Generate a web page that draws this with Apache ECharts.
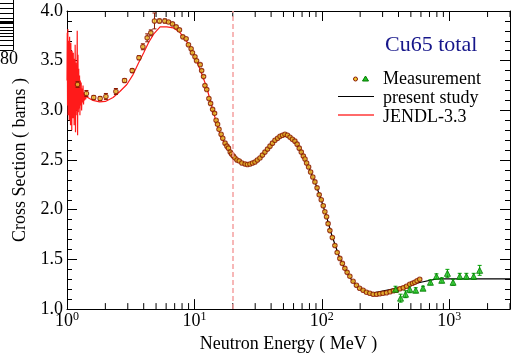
<!DOCTYPE html>
<html>
<head>
<meta charset="utf-8">
<script src="https://cdn.jsdelivr.net/npm/echarts@6/dist/echarts.min.js"></script>
<style>
html, body { margin: 0; padding: 0; background: #fff; }
#main { width: 516px; height: 358px; }
</style>
</head>
<body>
<div id="main"></div>
<script>
// measurement, circles: [MeV, barns, error]
var measCircles = [
    [1.21, 3.26, 0.03], [1.42, 3.17, 0.03], [1.62, 3.13, 0.02], [1.82, 3.12, 0.02],
    [2.02, 3.14, 0.03], [2.42, 3.19, 0.03], [2.83, 3.30, 0.02], [3.25, 3.40, 0.02],
    [3.67, 3.53, 0.02], [3.94, 3.64, 0.03], [4.26, 3.73, 0.04], [4.55, 3.78, 0.03],
    [4.86, 3.90, 0.08], [5.32, 3.90, 0.02], [5.86, 3.90, 0.02], [6.26, 3.89, 0.01],
    [6.73, 3.87, 0.01], [7.19, 3.84, 0.01], [7.63, 3.81, 0.01], [8.11, 3.74, 0.01],
    [8.61, 3.72, 0.01], [8.98, 3.66, 0.01], [9.42, 3.62, 0.01], [9.65, 3.58, 0.01],
    [10.1, 3.54, 0.01], [10.4, 3.50, 0.01], [11.1, 3.46, 0.01], [11.4, 3.40, 0.01],
    [11.8, 3.34, 0.01], [12.1, 3.25, 0.01], [12.5, 3.21, 0.01], [13.0, 3.12, 0.01],
    [13.4, 3.07, 0.01], [13.9, 3.01, 0.01], [14.4, 2.97, 0.01], [14.8, 2.90, 0.01],
    [15.2, 2.86, 0.01], [15.6, 2.81, 0.01], [16.2, 2.76, 0.01], [16.7, 2.72, 0.01],
    [17.4, 2.67, 0.01], [18.0, 2.64, 0.01], [18.5, 2.62, 0.01], [19.1, 2.58, 0.01],
    [19.6, 2.56, 0.01], [20.2, 2.54, 0.01], [20.8, 2.52, 0.01], [21.6, 2.50, 0.01],
    [22.5, 2.49, 0.01], [23.6, 2.47, 0.01], [25.0, 2.46, 0.01], [26.1, 2.455, 0.01],
    [27.3, 2.46, 0.01], [28.6, 2.47, 0.01], [29.9, 2.48, 0.01], [31.2, 2.50, 0.01],
    [32.7, 2.52, 0.01], [34.2, 2.55, 0.01], [35.8, 2.58, 0.01], [37.5, 2.61, 0.01],
    [39.2, 2.64, 0.01], [41.0, 2.67, 0.01], [42.9, 2.70, 0.01], [45.0, 2.72, 0.01],
    [47.0, 2.74, 0.01], [49.2, 2.75, 0.01], [51.4, 2.76, 0.01], [53.8, 2.75, 0.01],
    [56.3, 2.73, 0.01], [58.8, 2.71, 0.01], [61.5, 2.69, 0.01], [64.0, 2.66, 0.01],
    [66.5, 2.62, 0.01], [69.0, 2.58, 0.01], [71.6, 2.54, 0.01], [73.8, 2.51, 0.01],
    [76.0, 2.47, 0.01], [78.8, 2.43, 0.01], [81.7, 2.38, 0.01], [85.0, 2.33, 0.01],
    [88.3, 2.28, 0.01], [91.8, 2.22, 0.01], [95.4, 2.15, 0.01], [99.0, 2.10, 0.01],
    [102.6, 2.04, 0.01], [105.7, 1.98, 0.01], [109, 1.93, 0.01], [112, 1.86, 0.01],
    [115.7, 1.79, 0.01], [121, 1.72, 0.01], [126.7, 1.64, 0.01], [132, 1.57, 0.01],
    [138.6, 1.51, 0.01], [145, 1.46, 0.01], [151.7, 1.41, 0.01], [158, 1.37, 0.01],
    [166, 1.33, 0.01], [176, 1.28, 0.01], [187, 1.24, 0.01], [198, 1.21, 0.01],
    [211, 1.19, 0.01], [224, 1.17, 0.01], [238, 1.16, 0.01], [253, 1.15, 0.01],
    [269, 1.15, 0.01], [285, 1.155, 0.01], [302, 1.16, 0.01], [322, 1.165, 0.01],
    [343, 1.175, 0.01], [365, 1.185, 0.01], [386, 1.19, 0.01], [410, 1.205, 0.01],
    [436, 1.215, 0.01], [462, 1.23, 0.01], [490, 1.25, 0.01], [515, 1.26, 0.01],
    [537, 1.27, 0.01], [560, 1.285, 0.01], [587, 1.30, 0.01]
];

// measurement, triangles: [MeV, barns, error]
var measTriangles = [
    [379, 1.20, 0.03], [415, 1.11, 0.04], [454, 1.15, 0.035], [490, 1.20, 0.035],
    [546, 1.19, 0.025], [623, 1.21, 0.02], [712, 1.27, 0.025], [794, 1.33, 0.025],
    [874, 1.29, 0.025], [968, 1.36, 0.04], [1072, 1.27, 0.03], [1209, 1.33, 0.03],
    [1364, 1.33, 0.03], [1556, 1.33, 0.03], [1733, 1.39, 0.05]
];

var presentStudy = [
    [20, 2.54], [22, 2.50], [25, 2.465], [28, 2.465], [31, 2.49], [35, 2.56],
    [40, 2.65], [45, 2.72], [50, 2.755], [55, 2.745], [60, 2.70], [65, 2.64],
    [70, 2.565], [80, 2.41], [90, 2.25], [100, 2.08], [110, 1.91], [120, 1.74],
    [135, 1.55], [150, 1.42], [170, 1.30], [190, 1.23], [210, 1.19], [240, 1.155],
    [400, 1.215], [600, 1.27], [800, 1.305], [1000, 1.305], [3000, 1.305]
];

var jendl33 = [
    [1.000, 3.30], [1.005, 3.78], [1.010, 3.05], [1.015, 3.82], [1.020, 2.95],
    [1.025, 3.70], [1.030, 3.10], [1.036, 3.62], [1.042, 2.90], [1.048, 3.74],
    [1.054, 3.00], [1.060, 3.55], [1.066, 2.85], [1.072, 3.68], [1.078, 3.05],
    [1.084, 3.50], [1.090, 2.80], [1.096, 3.60], [1.102, 3.10], [1.108, 3.45],
    [1.114, 2.92], [1.120, 3.58], [1.126, 3.15], [1.132, 3.40], [1.138, 2.85],
    [1.145, 3.52], [1.152, 3.05], [1.159, 3.66], [1.166, 2.78], [1.173, 3.48],
    [1.180, 2.95], [1.187, 3.38], [1.195, 3.00], [1.203, 3.80], [1.211, 2.75],
    [1.219, 3.56], [1.227, 2.98], [1.236, 3.42], [1.245, 3.02], [1.254, 3.35],
    [1.263, 2.95], [1.272, 3.30], [1.282, 3.05], [1.292, 3.28], [1.302, 3.00],
    [1.313, 3.22], [1.324, 3.08], [1.336, 3.25], [1.348, 3.06], [1.360, 3.18],
    [1.373, 3.10], [1.386, 3.16], [1.400, 3.11], [1.415, 3.14], [1.430, 3.12],
    [1.5, 3.12], [1.6, 3.10], [1.8, 3.085], [2.0, 3.09], [2.3, 3.13], [2.6, 3.19],
    [2.95, 3.26], [3.3, 3.36], [3.65, 3.48], [4.0, 3.58], [4.36, 3.68], [4.8, 3.77],
    [5.38, 3.84], [6.08, 3.84], [6.84, 3.83], [7.63, 3.79], [8.74, 3.69],
    [9.84, 3.56], [11.1, 3.41], [12.5, 3.23], [14.1, 2.98], [16, 2.75], [18, 2.63],
    [20, 2.54]
];

var xMinorTicks = [2, 3, 4, 5, 6, 7, 8, 9, 20, 30, 40, 50, 60, 70, 80, 90,
    200, 300, 400, 500, 600, 700, 800, 900, 2000, 3000];
var boundaryLine = 20;

var serif = "'Liberation Serif', 'DejaVu Serif', serif";

function errorBars(data, color) {
    return {
        type: 'custom',
        silent: true,
        z: 3,
        data: data.map(function (d) { return [d[0], d[1] - d[2], d[1] + d[2]]; }),
        encode: { x: 0, y: [1, 2] },
        renderItem: function (params, api) {
            var lo = api.coord([api.value(0), api.value(1)]);
            var hi = api.coord([api.value(0), api.value(2)]);
            var st = { stroke: color, lineWidth: 1 };
            return {
                type: 'group',
                children: [
                    { type: 'line', shape: { x1: lo[0], y1: lo[1], x2: hi[0], y2: hi[1] }, style: st },
                    { type: 'line', shape: { x1: lo[0] - 2, y1: lo[1], x2: lo[0] + 2, y2: lo[1] }, style: st },
                    { type: 'line', shape: { x1: hi[0] - 2, y1: hi[1], x2: hi[0] + 2, y2: hi[1] }, style: st }
                ]
            };
        }
    };
}

var myChart = echarts.init(document.getElementById('main'));
myChart.setOption({
    animation: false,
    grid: { left: 67, right: 6, top: 11, bottom: 45 },
    title: {
        text: 'Cu65 total', left: 385, top: 34, padding: 0,
        textStyle: { fontFamily: serif, fontSize: 22, fontWeight: 'normal', color: '#16168a' }
    },
    xAxis: [{
        type: 'log', logBase: 10, min: 1, max: 3000,
        name: 'Neutron Energy ( MeV )', nameLocation: 'middle', nameGap: 24,
        nameTextStyle: { fontFamily: serif, fontSize: 18, color: '#000' },
        axisLine: { lineStyle: { color: '#000', width: 1 } },
        axisTick: { inside: true, length: 10, lineStyle: { color: '#000' } },
        splitLine: { show: false },
        axisLabel: {
            margin: 2, color: '#000', showMaxLabel: false,
            formatter: function (v) {
                var p = Math.round(Math.log10(v));
                if (Math.abs(Math.log10(v) - p) > 1e-6) return '';
                return '{b|10}{s|' + p + '}';
            },
            rich: {
                b: { fontFamily: serif, fontSize: 18, color: '#000', lineHeight: 20 },
                s: { fontFamily: serif, fontSize: 12, color: '#000', verticalAlign: 'top', lineHeight: 20 }
            }
        }
    }, {
        type: 'log', logBase: 10, min: 1, max: 3000, position: 'top',
        axisLine: { lineStyle: { color: '#000', width: 1 } },
        axisTick: { inside: true, length: 10, lineStyle: { color: '#000' } },
        axisLabel: { show: false },
        splitLine: { show: false }
    }],
    yAxis: [{
        type: 'value', min: 1, max: 4, interval: 0.5,
        name: 'Cross Section ( barns )', nameLocation: 'middle', nameGap: 29,
        nameTextStyle: { fontFamily: serif, fontSize: 18, color: '#000' },
        axisLine: { show: true, lineStyle: { color: '#000', width: 1 } },
        axisTick: { show: true, inside: true, length: 10, lineStyle: { color: '#000' } },
        minorTick: { show: true, splitNumber: 5, length: 5, lineStyle: { color: '#000' } },
        splitLine: { show: false },
        axisLabel: {
            margin: 4, fontFamily: serif, fontSize: 18, color: '#000',
            formatter: function (v) { return v.toFixed(1); }
        }
    }, {
        type: 'value', min: 1, max: 4, interval: 0.5, position: 'right',
        axisLine: { show: true, lineStyle: { color: '#000', width: 1 } },
        axisTick: { show: true, inside: true, length: 10, lineStyle: { color: '#000' } },
        minorTick: { show: true, splitNumber: 5, length: 5, lineStyle: { color: '#000' } },
        splitLine: { show: false },
        axisLabel: { show: false }
    }],
    series: [{
        type: 'custom',
        silent: true,
        data: xMinorTicks.map(function (v) { return [v, 1]; }),
        encode: { x: 0, y: 1 },
        renderItem: function (params, api) {
            var b = api.coord([api.value(0), 1]);
            var t = api.coord([api.value(0), 4]);
            var st = { stroke: '#000', lineWidth: 1 };
            return {
                type: 'group',
                children: [
                    { type: 'line', shape: { x1: b[0], y1: b[1], x2: b[0], y2: b[1] - 6 }, style: st },
                    { type: 'line', shape: { x1: t[0], y1: t[1], x2: t[0], y2: t[1] + 6 }, style: st }
                ]
            };
        }
    }, {
        name: 'JENDL-3.3',
        type: 'line',
        data: jendl33,
        showSymbol: false,
        lineStyle: { color: '#ff1a1a', width: 1.2 },
        z: 2,
        markLine: {
            silent: true, symbol: 'none', label: { show: false },
            lineStyle: { color: '#f5a0a0', type: [5, 3], width: 1.5 },
            data: [{ xAxis: boundaryLine }]
        }
    }, {
        name: 'present study',
        type: 'line',
        data: presentStudy,
        showSymbol: false,
        lineStyle: { color: '#000', width: 1.2 },
        z: 2
    },
    errorBars(measCircles, '#8a1800'),
    errorBars(measTriangles, '#00a000'),
    {
        name: 'Measurement',
        type: 'scatter',
        data: measCircles.map(function (d) { return [d[0], d[1]]; }),
        symbol: 'circle',
        symbolSize: 4.5,
        itemStyle: { color: '#f0c830', borderColor: '#8a1800', borderWidth: 1.1 },
        z: 4
    }, {
        name: 'Measurement',
        type: 'scatter',
        data: measTriangles.map(function (d) { return [d[0], d[1]]; }),
        symbol: 'triangle',
        symbolSize: 6,
        itemStyle: { color: '#22c022', borderColor: '#007a00', borderWidth: 1 },
        z: 4
    }],
    graphic: [
        // legend
        { type: 'circle', shape: { cx: 355.5, cy: 79, r: 2 }, style: { fill: '#f0c830', stroke: '#8a1800', lineWidth: 1 } },
        { type: 'polygon', shape: { points: [[365.5, 76], [368.5, 81], [362.5, 81]] }, style: { fill: '#22c022', stroke: '#007a00', lineWidth: 1 } },
        { type: 'text', x: 383, y: 79, style: { text: 'Measurement', font: '18px ' + serif, fill: '#000', verticalAlign: 'middle' } },
        { type: 'line', shape: { x1: 338, y1: 96.5, x2: 374, y2: 96.5 }, style: { stroke: '#000', lineWidth: 1 } },
        { type: 'text', x: 383, y: 98, style: { text: 'present study', font: '18px ' + serif, fill: '#000', verticalAlign: 'middle' } },
        { type: 'line', shape: { x1: 338, y1: 115, x2: 374, y2: 115 }, style: { stroke: '#ff6a6a', lineWidth: 2 } },
        { type: 'text', x: 383, y: 117, style: { text: 'JENDL-3.3', font: '18px ' + serif, fill: '#000', verticalAlign: 'middle' } },
        // clipped remains of a neighbouring figure
        { type: 'line', shape: { x1: 13.5, y1: 0, x2: 13.5, y2: 50 }, style: { stroke: '#000', lineWidth: 1 } },
        { type: 'line', shape: { x1: 0, y1: 50.5, x2: 13.5, y2: 50.5 }, style: { stroke: '#000', lineWidth: 1 } },
        { type: 'line', shape: { x1: 0, y1: 3.5, x2: 13, y2: 3.5 }, style: { stroke: '#000', lineWidth: 1 } },
        { type: 'line', shape: { x1: 0, y1: 8.5, x2: 13, y2: 8.5 }, style: { stroke: '#000', lineWidth: 1 } },
        { type: 'line', shape: { x1: 0, y1: 13.5, x2: 13, y2: 13.5 }, style: { stroke: '#000', lineWidth: 1 } },
        { type: 'line', shape: { x1: 0, y1: 18.5, x2: 13, y2: 18.5 }, style: { stroke: '#000', lineWidth: 1 } },
        { type: 'rect', shape: { x: 0, y: 21, width: 13, height: 3 }, style: { fill: '#000' } },
        { type: 'line', shape: { x1: 0, y1: 27.5, x2: 13, y2: 27.5 }, style: { stroke: '#000', lineWidth: 1 } },
        { type: 'line', shape: { x1: 0, y1: 30.5, x2: 13, y2: 30.5 }, style: { stroke: '#000', lineWidth: 1 } },
        { type: 'line', shape: { x1: 0, y1: 33.5, x2: 13, y2: 33.5 }, style: { stroke: '#000', lineWidth: 1 } },
        { type: 'line', shape: { x1: 0, y1: 36.5, x2: 13, y2: 36.5 }, style: { stroke: '#000', lineWidth: 1 } },
        { type: 'line', shape: { x1: 0, y1: 40.5, x2: 13, y2: 40.5 }, style: { stroke: '#000', lineWidth: 1 } },
        { type: 'line', shape: { x1: 0, y1: 45.5, x2: 13, y2: 45.5 }, style: { stroke: '#000', lineWidth: 1 } },
        { type: 'text', x: 18, y: 59, style: { text: '80', font: '18px ' + serif, fill: '#000', align: 'right', verticalAlign: 'middle' } }
    ]
});
</script>
</body>
</html>
